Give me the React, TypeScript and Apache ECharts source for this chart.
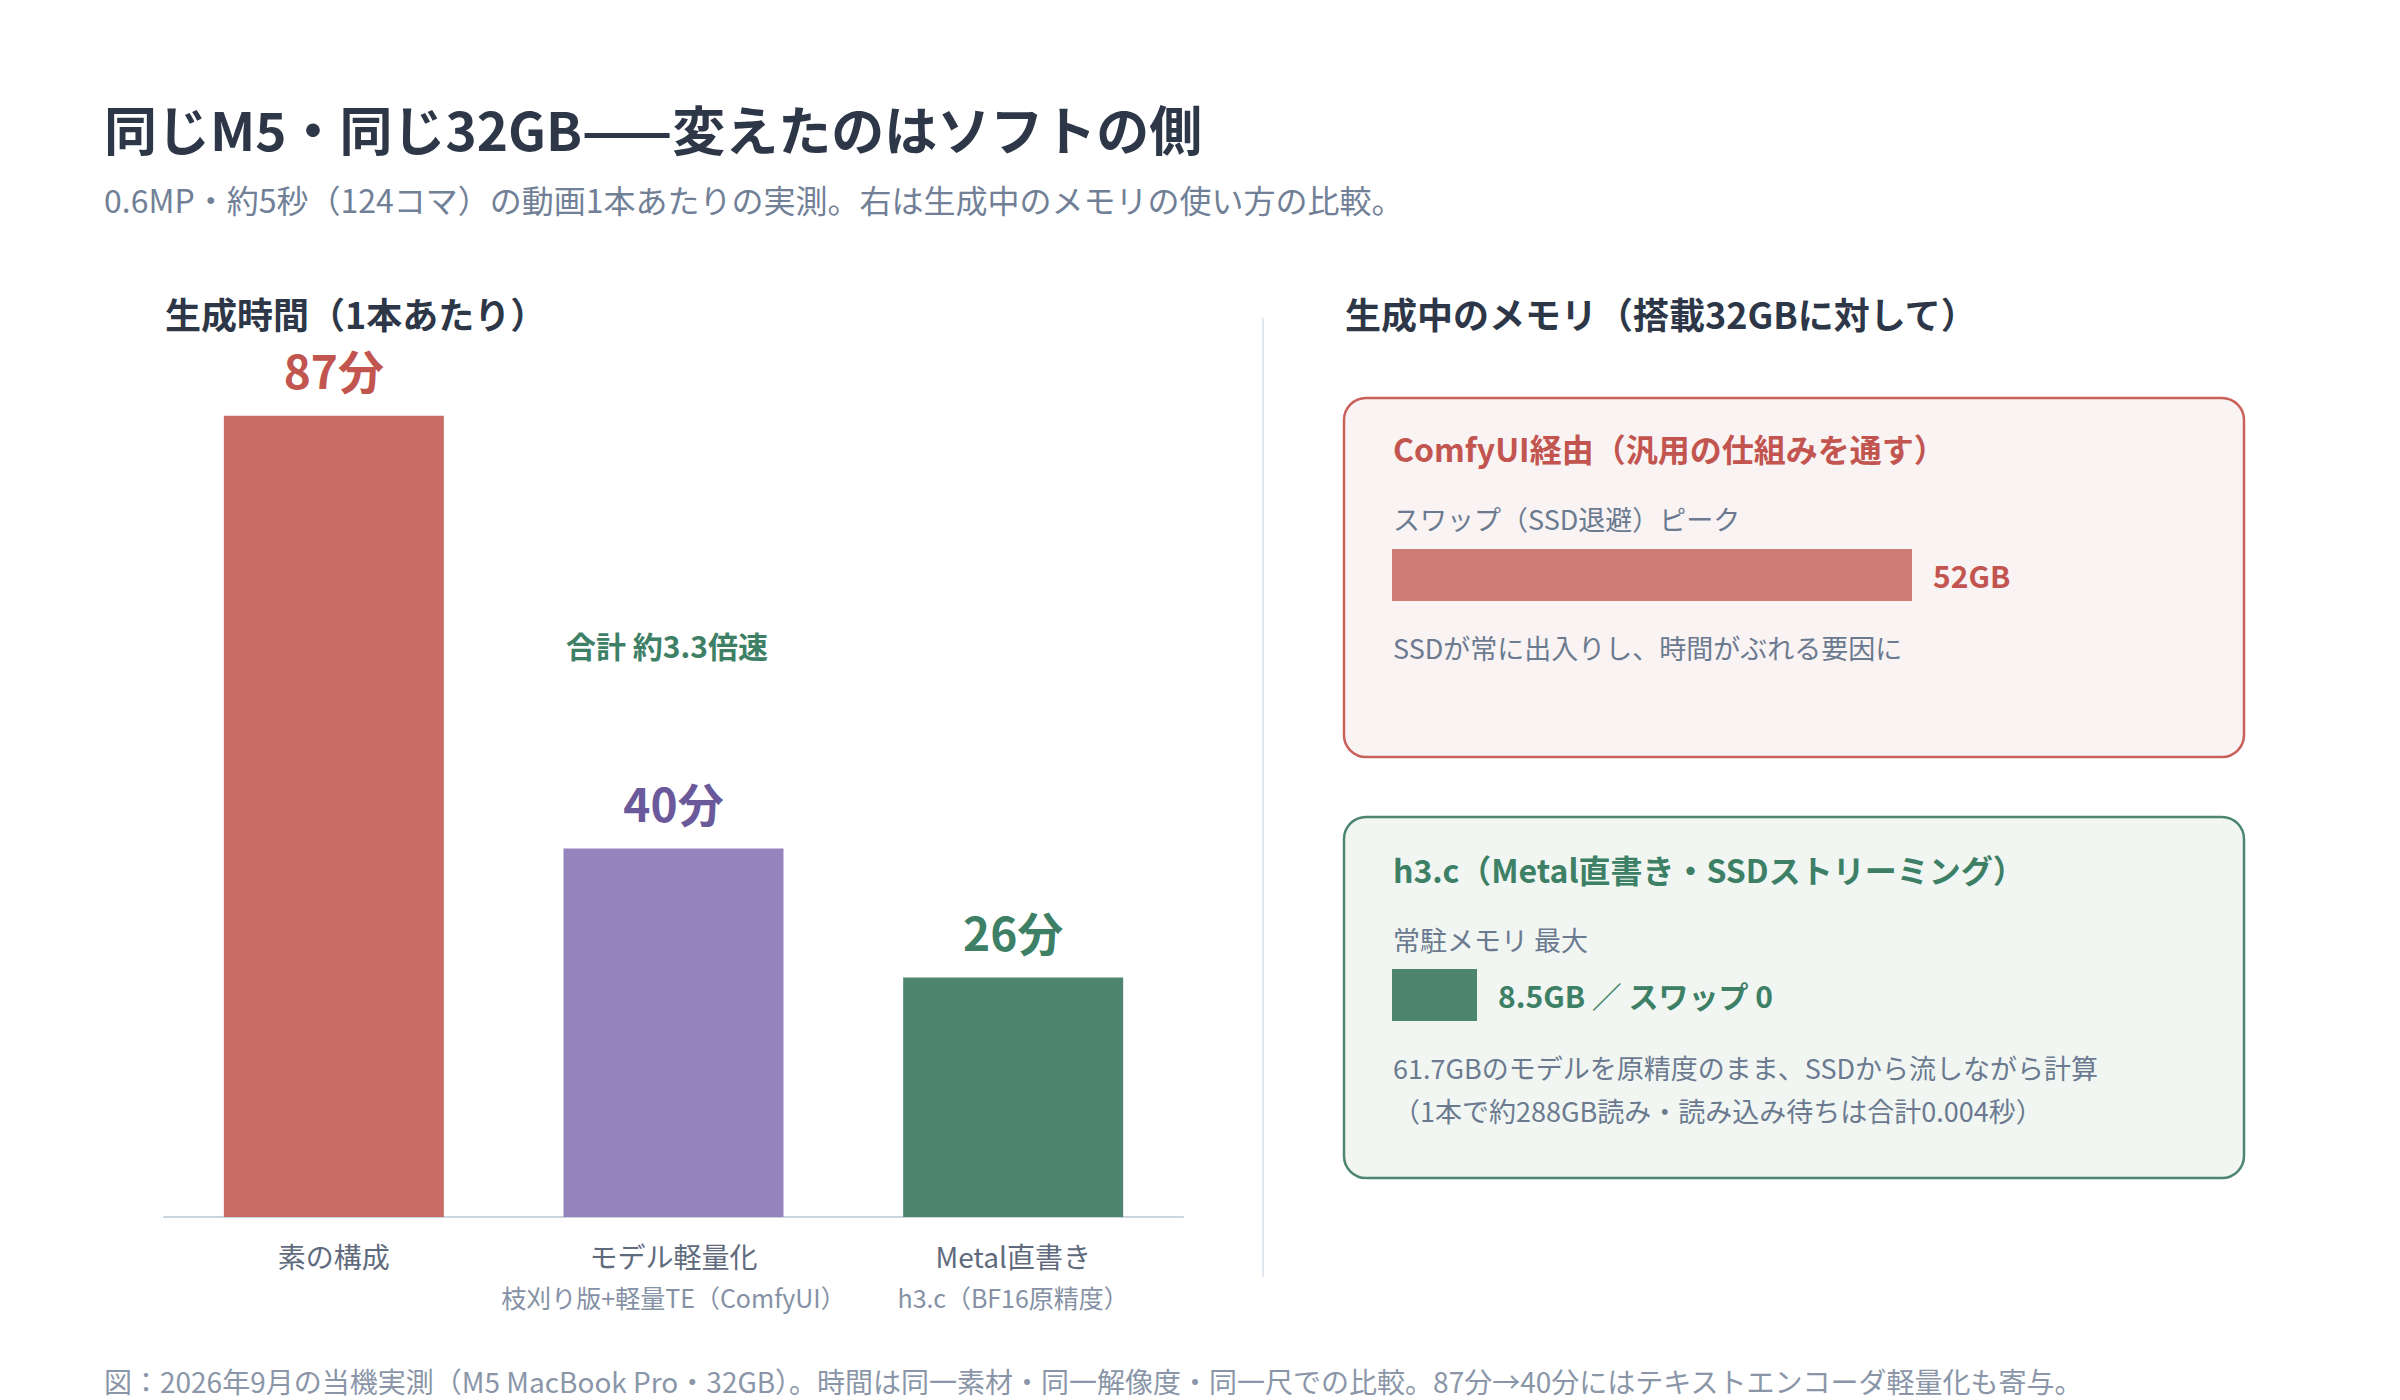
import { useEffect, useRef } from "react";
import * as echarts from "echarts";

const FONT = "'Noto Sans CJK JP', 'Noto Sans', sans-serif";

/* ========== data ========== */

const CATEGORIES = ["素の構成", "モデル軽量化", "Metal直書き"];
const SUB_LABELS = ["", "枝刈り版+軽量TE（ComfyUI）", "h3.c（BF16原精度）"];
const MINUTES = [87, 40, 26];
const BAR_COLORS = ["#c96b65", "#9583bd", "#4e8570"];
const LABEL_COLORS = ["#c2554f", "#6a5a9c", "#3d8066"];

const SWAP_PEAK_GB = [52];
const RESIDENT_GB = [8.5];
const SWAP_AFTER = 0;
const MEM_MAX_GB = 52;

const TITLE = "同じM5・同じ32GB——変えたのはソフトの側";
const SUBTITLE = "0.6MP・約5秒（124コマ）の動画1本あたりの実測。右は生成中のメモリの使い方の比較。";
const LEFT_HEAD = "生成時間（1本あたり）";
const RIGHT_HEAD = "生成中のメモリ（搭載32GBに対して）";
const SPEEDUP = "合計 約3.3倍速";
const FOOTNOTE =
  "図：2026年9月の当機実測（M5 MacBook Pro・32GB）。時間は同一素材・同一解像度・同一尺での比較。87分→40分にはテキストエンコーダ軽量化も寄与。";

const RED = "#c2554f";
const GREEN = "#3d8066";
const DARK = "#2d3748";
const GRAY = "#6b7a8f";

function txt(x: number, y: number, text: string, size: number, color: string, bold = false, align = "left") {
  return {
    type: "text",
    x,
    y,
    z: 10,
    style: {
      text,
      fill: color,
      fontSize: size,
      fontWeight: bold ? "bold" : "normal",
      fontFamily: FONT,
      textAlign: align,
      textVerticalAlign: "middle",
      verticalAlign: "middle",
    },
  };
}

export default function App() {
  const chartRef = useRef<HTMLDivElement>(null);

  useEffect(() => {
    document.body.style.margin = "0";
    if (!chartRef.current) return;
    const chart = echarts.init(chartRef.current, null, { renderer: "svg" });

    chart.setOption({
      animation: false,
      backgroundColor: "#ffffff",
      textStyle: { fontFamily: FONT },
      grid: [
        { left: 164, top: 296, width: 1019, height: 921 },
        { left: 1392, top: 549, width: 520, height: 52 },
        { left: 1392, top: 969, width: 520, height: 52 },
      ],
      xAxis: [
        {
          type: "category",
          gridIndex: 0,
          data: CATEGORIES,
          axisLine: { lineStyle: { color: "#cbd5e0", width: 2 } },
          axisTick: { show: false },
          axisLabel: {
            margin: 19,
            interval: 0,
            formatter: (v: string, i: number) =>
              SUB_LABELS[i] ? `{a|${v}}\n{b|${SUB_LABELS[i]}}` : `{a|${v}}`,
            rich: {
              a: { fontSize: 28, lineHeight: 40, color: "#5f6b7d", fontFamily: FONT },
              b: { fontSize: 25, lineHeight: 42, color: "#8591a5", fontFamily: FONT },
            },
          },
        },
        { type: "value", gridIndex: 1, min: 0, max: MEM_MAX_GB, show: false },
        { type: "value", gridIndex: 2, min: 0, max: MEM_MAX_GB, show: false },
      ],
      yAxis: [
        { type: "value", gridIndex: 0, min: 0, max: 100, show: false },
        { type: "category", gridIndex: 1, data: ["ComfyUI"], show: false },
        { type: "category", gridIndex: 2, data: ["h3.c"], show: false },
      ],
      series: [
        {
          type: "bar",
          xAxisIndex: 0,
          yAxisIndex: 0,
          barWidth: 220,
          data: MINUTES.map((v, i) => ({
            value: v,
            itemStyle: { color: BAR_COLORS[i] },
            label: { color: LABEL_COLORS[i] },
          })),
          label: {
            show: true,
            position: "top",
            distance: 24,
            formatter: (p: { value: number }) => `${p.value}分`,
            fontSize: 46,
            fontWeight: "bold",
            fontFamily: FONT,
          },
        },
        {
          type: "bar",
          xAxisIndex: 1,
          yAxisIndex: 1,
          barWidth: 52,
          data: SWAP_PEAK_GB,
          itemStyle: { color: "#cf7c75" },
          label: {
            show: true,
            position: "right",
            distance: 21,
            formatter: (p: { value: number }) => `${p.value}GB`,
            fontSize: 30,
            fontWeight: "bold",
            color: RED,
            fontFamily: FONT,
          },
        },
        {
          type: "bar",
          xAxisIndex: 2,
          yAxisIndex: 2,
          barWidth: 52,
          data: RESIDENT_GB,
          itemStyle: { color: "#4e8570" },
          label: {
            show: true,
            position: "right",
            distance: 21,
            formatter: (p: { value: number }) => `{v|${p.value}GB}{s| ／ }{v|スワップ ${SWAP_AFTER}}`,
            rich: {
              v: { fontSize: 30, fontWeight: "bold", color: GREEN, fontFamily: FONT },
              s: { fontSize: 30, fontWeight: "normal", color: GREEN, fontFamily: FONT },
            },
          },
        },
      ],
      graphic: [
        txt(104, 128, TITLE, 53, DARK, true),
        txt(104, 199, SUBTITLE, 32, "#718096"),
        txt(165, 313, LEFT_HEAD, 36, DARK, true),
        txt(1345, 313, RIGHT_HEAD, 36, DARK, true),
        txt(566, 645, SPEEDUP, 30, GREEN, true),
        {
          type: "line",
          z: 1,
          shape: { x1: 1263, y1: 318, x2: 1263, y2: 1277 },
          style: { stroke: "#e2e8f0", lineWidth: 2 },
        },
        {
          type: "rect",
          z: 0,
          shape: { x: 1344, y: 398, width: 900, height: 359, r: 22 },
          style: { fill: "#f9f3f3", stroke: "#c9605a", lineWidth: 2.5 },
        },
        {
          type: "rect",
          z: 0,
          shape: { x: 1344, y: 817, width: 900, height: 361, r: 22 },
          style: { fill: "#f1f6f3", stroke: "#4e8570", lineWidth: 2.5 },
        },
        txt(1393, 448, "ComfyUI経由（汎用の仕組みを通す）", 32, RED, true),
        txt(1393, 518, "スワップ（SSD退避）ピーク", 27, GRAY),
        txt(1393, 647, "SSDが常に出入りし、時間がぶれる要因に", 27, GRAY),
        txt(1393, 869, "h3.c（Metal直書き・SSDストリーミング）", 32, GREEN, true),
        txt(1393, 939, "常駐メモリ 最大", 27, GRAY),
        txt(1393, 1067, "61.7GBのモデルを原精度のまま、SSDから流しながら計算", 27, GRAY),
        txt(1393, 1110, "（1本で約288GB読み・読み込み待ちは合計0.004秒）", 27, GRAY),
        txt(104, 1381, FOOTNOTE, 28, "#8a96a8"),
      ],
    });

    return () => chart.dispose();
  }, []);

  return <div ref={chartRef} style={{ width: "2400px", height: "1400px" }} />;
}
